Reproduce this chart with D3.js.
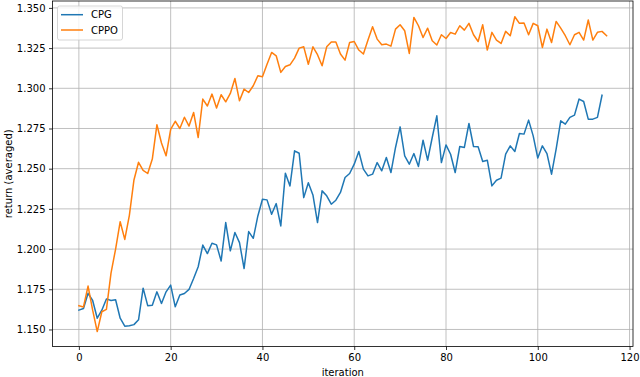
<!DOCTYPE html>
<html>
<head>
<meta charset="utf-8">
<script src="https://cdn.jsdelivr.net/npm/d3@7"></script>
<style>
  body { margin: 0; background: #fff; }
  text { font-family: "DejaVu Sans", sans-serif; }
</style>
</head>
<body>
<div class="chart"></div>
<script>
const seriesNames = ["CPG", "CPPO"];
const seriesColors = ["#1f77b4", "#ff7f0e"];

const cpg = [
  1.162, 1.163, 1.1725, 1.168, 1.157, 1.162, 1.169, 1.168, 1.1685, 1.157,
  1.152, 1.1523, 1.153, 1.156, 1.1757, 1.1648, 1.165, 1.1734, 1.1662, 1.1734,
  1.1776, 1.1641, 1.1714, 1.1724, 1.1749, 1.1817, 1.189, 1.2025, 1.1972, 1.2036,
  1.2026, 1.1926, 1.2165, 1.1989, 1.2103, 1.204, 1.1879, 1.2109, 1.2067, 1.2206,
  1.231, 1.2306, 1.2217, 1.2283, 1.2144, 1.2472, 1.2393, 1.2611, 1.2596, 1.232,
  1.2412, 1.2337, 1.2165, 1.2362, 1.2331, 1.2279, 1.2304, 1.2352, 1.2445, 1.247,
  1.2528, 1.2607, 1.2497, 1.2455, 1.2466, 1.2538, 1.2487, 1.257, 1.2476, 1.2632,
  1.276, 1.258, 1.2528, 1.2594, 1.2514, 1.2677, 1.2553, 1.2694, 1.2829, 1.2538,
  1.2648, 1.259, 1.2476, 1.2638, 1.2632, 1.2781, 1.2638, 1.2636, 1.2545, 1.2553,
  1.2393, 1.2428, 1.2441, 1.259, 1.2642, 1.2607, 1.2719, 1.2715, 1.2802, 1.2704,
  1.2566, 1.2642, 1.2594, 1.2466, 1.2621, 1.2798, 1.2777, 1.2819, 1.2833, 1.2933,
  1.2918, 1.2808, 1.2808, 1.2819, 1.2957
];

const cppo = [
  1.1648, 1.164, 1.177, 1.162, 1.1487, 1.161, 1.1625, 1.185, 1.2, 1.217,
  1.206, 1.221, 1.243, 1.254, 1.249, 1.247, 1.256, 1.2773, 1.266, 1.258,
  1.2745, 1.2795, 1.275, 1.282, 1.2765, 1.285, 1.2694, 1.2933, 1.289, 1.2964,
  1.2877, 1.296, 1.2916, 1.2968, 1.3061, 1.2922, 1.2995, 1.2974, 1.3016, 1.3078,
  1.3072, 1.315, 1.3223, 1.3202, 1.3099, 1.3136, 1.3146, 1.3188, 1.325, 1.3258,
  1.315, 1.3258, 1.3209, 1.314, 1.3258, 1.3288, 1.3288, 1.3213, 1.3175, 1.3285,
  1.3291, 1.3238, 1.3213, 1.33, 1.3383, 1.3306, 1.3271, 1.3275, 1.3262, 1.3368,
  1.3395, 1.3358, 1.3217, 1.3441, 1.3389, 1.3316, 1.3374, 1.3296, 1.3269, 1.3333,
  1.331, 1.3347, 1.3337, 1.3389, 1.3362, 1.3404, 1.3333, 1.3291, 1.3395, 1.3238,
  1.3348, 1.33, 1.3279, 1.3354, 1.3327, 1.3445, 1.3404, 1.3406, 1.3333, 1.3404,
  1.3389, 1.3254, 1.3368, 1.3285, 1.3416, 1.3374, 1.3327, 1.3271, 1.3333, 1.3348,
  1.33, 1.3425, 1.33, 1.3348, 1.3354, 1.3327
];

const xTicks = [0, 20, 40, 60, 80, 100, 120];
const yTicks = [1.150, 1.175, 1.200, 1.225, 1.250, 1.275, 1.300, 1.325, 1.350];

const W = 640, H = 377;
const plot = {left: 52.5, right: 633, top: 1, bottom: 346.5};

const svg = d3.select(".chart").append("svg")
    .attr("width", W)
    .attr("height", H);

const xScale = d3.scaleLinear()
    .domain([-5.75, 120.75])
    .range([plot.left, plot.right]);

const yScale = d3.scaleLinear()
    .domain([1.1394, 1.3543])
    .range([plot.bottom, plot.top]);

// grid
svg.append("g")
    .selectAll("line")
    .data(xTicks)
    .enter()
    .append("line")
    .attr("x1", d => xScale(d)).attr("x2", d => xScale(d))
    .attr("y1", plot.top).attr("y2", plot.bottom)
    .attr("stroke", "#b0b0b0").attr("stroke-width", 0.8);

svg.append("g")
    .selectAll("line")
    .data(yTicks)
    .enter()
    .append("line")
    .attr("x1", plot.left).attr("x2", plot.right)
    .attr("y1", d => yScale(d)).attr("y2", d => yScale(d))
    .attr("stroke", "#b0b0b0").attr("stroke-width", 0.8);

// lines
const line = d3.line()
    .x((d, i) => xScale(i))
    .y(d => yScale(d));

[cpg, cppo].forEach((s, k) => {
    svg.append("path")
        .datum(s)
        .attr("fill", "none")
        .attr("stroke", seriesColors[k])
        .attr("stroke-width", 1.5)
        .attr("stroke-linejoin", "round")
        .attr("stroke-linecap", "square")
        .attr("d", line);
});

// axes
const xAxis = d3.axisBottom(xScale)
    .tickValues(xTicks)
    .tickSize(3.5)
    .tickPadding(3.5)
    .tickFormat(d3.format("d"));

svg.append("g")
    .attr("transform", `translate(0, ${plot.bottom})`)
    .call(xAxis)
    .call(g => g.select(".domain").remove());

const yAxis = d3.axisLeft(yScale)
    .tickValues(yTicks)
    .tickSize(3.5)
    .tickPadding(3.5)
    .tickFormat(d3.format(".3f"));

svg.append("g")
    .attr("transform", `translate(${plot.left}, 0)`)
    .call(yAxis)
    .call(g => g.select(".domain").remove());

svg.selectAll(".tick text")
    .attr("font-family", "DejaVu Sans, sans-serif")
    .attr("font-size", 10)
    .attr("fill", "#000");
svg.selectAll(".tick line")
    .attr("stroke", "#000")
    .attr("stroke-width", 0.8);

// spines
svg.append("rect")
    .attr("x", plot.left).attr("y", plot.top)
    .attr("width", plot.right - plot.left)
    .attr("height", plot.bottom - plot.top)
    .attr("fill", "none")
    .attr("stroke", "#000")
    .attr("stroke-width", 0.8);

// axis labels
svg.append("text")
    .attr("x", (plot.left + plot.right) / 2)
    .attr("y", 376)
    .attr("text-anchor", "middle")
    .attr("font-size", 10)
    .text("iteration");

svg.append("text")
    .attr("transform", `translate(12, ${(plot.top + plot.bottom) / 2}) rotate(-90)`)
    .attr("text-anchor", "middle")
    .attr("font-size", 10)
    .text("return (averaged)");

// legend
const legend = svg.append("g");
legend.append("rect")
    .attr("x", 57.5).attr("y", 6)
    .attr("width", 65).attr("height", 34)
    .attr("rx", 2)
    .attr("fill", "#fff").attr("fill-opacity", 0.8)
    .attr("stroke", "#cccccc").attr("stroke-width", 0.8);

legend.selectAll(".key")
    .data(seriesNames)
    .enter()
    .append("line")
    .attr("class", "key")
    .attr("x1", 61).attr("x2", 83)
    .attr("y1", (d, i) => 14.7 + i * 15.3)
    .attr("y2", (d, i) => 14.7 + i * 15.3)
    .attr("stroke", (d, i) => seriesColors[i])
    .attr("stroke-width", 1.5);

legend.selectAll(".label")
    .data(seriesNames)
    .enter()
    .append("text")
    .attr("class", "label")
    .attr("x", 91)
    .attr("y", (d, i) => 14.7 + i * 15.3)
    .attr("dy", "0.35em")
    .attr("font-size", 10)
    .text(d => d);
</script>
</body>
</html>
